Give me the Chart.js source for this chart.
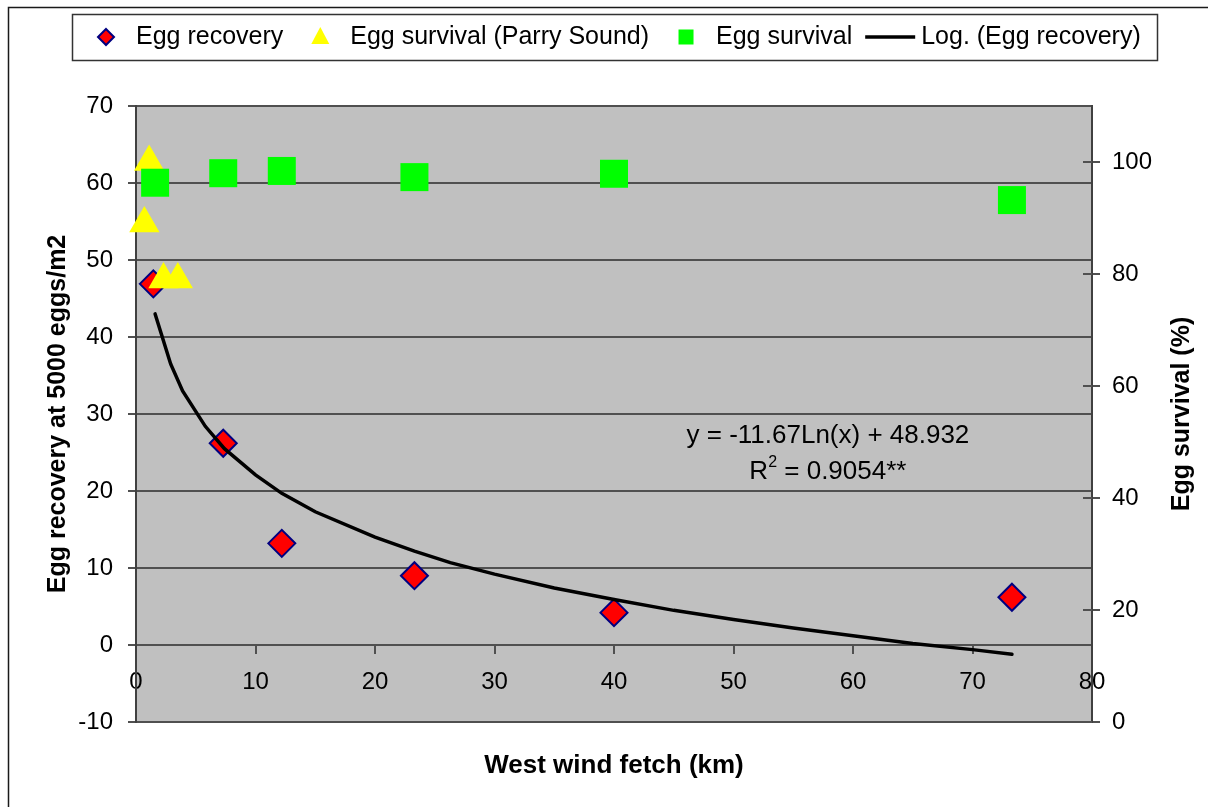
<!DOCTYPE html>
<html>
<head>
<meta charset="utf-8">
<title>Egg recovery and survival vs west wind fetch</title>
<script src="https://cdn.jsdelivr.net/npm/chart.js@4/dist/chart.umd.min.js"></script>
<style>
  html, body { margin: 0; padding: 0; background: #fff; }
  canvas { display: block; }
</style>
</head>
<body>
<canvas id="fetch-chart" width="1208" height="807"></canvas>
<script>
// Egg recovery at 5000 eggs/m2 by west wind fetch (km)
const recoveryFetch = [1.45, 7.3, 12.2, 23.3, 40, 73.3];
const eggRecovery = [46.9, 26.2, 13.2, 9.0, 4.2, 6.2];

// Egg survival (%) at the Parry Sound sites
const parryFetch = [0.7, 1.1, 2.3, 3.5];
const parrySurvival = [89, 100, 79, 79];

// Egg survival (%) at the other sites
const survivalFetch = [1.6, 7.3, 12.2, 23.3, 40, 73.3];
const eggSurvival = [96.3, 98.0, 98.4, 97.3, 97.9, 93.2];

// Logarithmic trend of egg recovery
const trendFetch = [1.6, 2.9, 3.9, 5.8, 7.4, 10, 12.2, 15, 20, 23.3, 26.3, 30, 35, 40, 45, 50, 55, 60, 65, 70, 73.3];
const trendRecovery = [43.0, 36.5, 33.0, 28.4, 25.5, 22.1, 19.7, 17.3, 14.0, 12.2, 10.7, 9.2, 7.4, 5.9, 4.5, 3.3, 2.2, 1.2, 0.2, -0.6, -1.2];

// Axis ticks
const fetchTicks = [0, 10, 20, 30, 40, 50, 60, 70, 80];
const recoveryTicks = [-10, 0, 10, 20, 30, 40, 50, 60, 70];
const survivalTicks = [0, 20, 40, 60, 80, 100];

const equationText = 'y = -11.67Ln(x) + 48.932';
const rSquaredText = ' = 0.9054**';

const FONT = '"Liberation Sans", Arial, Helvetica, sans-serif';
const AXIS_COLOR = '#505050';

Chart.defaults.font.family = FONT;
Chart.defaults.color = '#000';

const toPoints = (xs, ys) => xs.map((x, i) => ({ x: x, y: ys[i] }));
const useTicks = list => scale => { scale.ticks = list.map(v => ({ value: v })); };

// Grey plot area and the outer frame
const plotBackground = {
    id: 'plotBackground',
    beforeDraw(chart) {
        const { ctx, chartArea: a } = chart;
        ctx.save();
        ctx.fillStyle = '#fff';
        ctx.fillRect(0, 0, chart.width, chart.height);
        ctx.fillStyle = '#c0c0c0';
        ctx.fillRect(a.left, a.top, a.right - a.left, a.bottom - a.top);
        ctx.strokeStyle = '#1a1a1a';
        ctx.lineWidth = 1.5;
        ctx.beginPath();
        ctx.moveTo(8.5, chart.height);
        ctx.lineTo(8.5, 7.5);
        ctx.lineTo(chart.width, 7.5);
        ctx.stroke();
        ctx.restore();
    }
};

// Inner half of the right axis tick marks, axis titles, trend equation
const annotations = {
    id: 'annotations',
    afterDraw(chart) {
        const { ctx, chartArea: a, scales } = chart;
        ctx.save();
        ctx.strokeStyle = AXIS_COLOR;
        ctx.lineWidth = 2;
        scales.y1.ticks.forEach(t => {
            const py = Math.round(scales.y1.getPixelForValue(t.value));
            ctx.beginPath();
            ctx.moveTo(a.right - 9, py);
            ctx.lineTo(a.right, py);
            ctx.stroke();
        });

        ctx.fillStyle = '#000';
        ctx.textAlign = 'center';
        ctx.textBaseline = 'middle';
        ctx.font = 'bold 26px ' + FONT;
        ctx.fillText('West wind fetch (km)', (a.left + a.right) / 2, 766);
        ctx.font = 'bold 25px ' + FONT;
        ctx.translate(1182, (a.top + a.bottom) / 2);
        ctx.rotate(-Math.PI / 2);
        ctx.fillText('Egg survival (%)', 0, 0);
        ctx.restore();

        ctx.save();
        const cx = scales.x.getPixelForValue(57.9);
        const ey = scales.y.getPixelForValue(27.2);
        ctx.fillStyle = '#000';
        ctx.font = '26px ' + FONT;
        ctx.textBaseline = 'middle';
        ctx.textAlign = 'center';
        ctx.fillText(equationText, cx, ey);

        // R² line, superscript drawn smaller and raised
        const ry = ey + 36;
        const wR = ctx.measureText('R').width;
        const wRest = ctx.measureText(rSquaredText).width;
        ctx.font = '16px ' + FONT;
        const wSup = ctx.measureText('2').width;
        let sx = cx - (wR + wSup + wRest) / 2;
        ctx.textAlign = 'left';
        ctx.font = '26px ' + FONT;
        ctx.fillText('R', sx, ry);
        sx += wR;
        ctx.font = '16px ' + FONT;
        ctx.fillText('2', sx, ry - 9);
        sx += wSup;
        ctx.font = '26px ' + FONT;
        ctx.fillText(rSquaredText, sx, ry);
        ctx.restore();
    }
};

// Boxed legend across the top
const legendItems = [
    { text: 'Egg recovery', marker: 'diamond', fill: '#ff0000', stroke: '#000080' },
    { text: 'Egg survival (Parry Sound)', marker: 'triangle', fill: '#ffff00' },
    { text: 'Egg survival', marker: 'square', fill: '#00ff00' },
    { text: 'Log. (Egg recovery)', marker: 'line', stroke: '#000' }
];

const legendBox = {
    id: 'legendBox',
    afterDraw(chart) {
        const { ctx } = chart;
        const box = { left: 72, top: 14, right: 1157, bottom: 60 };
        const cy = (box.top + box.bottom) / 2;
        ctx.save();
        ctx.fillStyle = '#fff';
        ctx.fillRect(box.left, box.top, box.right - box.left, box.bottom - box.top);
        ctx.strokeStyle = '#333';
        ctx.lineWidth = 1.5;
        ctx.strokeRect(box.left + 0.5, box.top + 0.5, box.right - box.left, box.bottom - box.top);

        ctx.font = '25px ' + FONT;
        ctx.textBaseline = 'middle';
        ctx.textAlign = 'left';
        let x = box.left + 19;
        legendItems.forEach((item, i) => {
            let textX;
            ctx.beginPath();
            if (item.marker === 'line') {
                ctx.strokeStyle = item.stroke;
                ctx.lineWidth = 3.5;
                ctx.moveTo(x, cy);
                ctx.lineTo(x + 50, cy);
                ctx.stroke();
                textX = x + 56;
            } else {
                const mx = x + 15;
                if (item.marker === 'diamond') {
                    ctx.moveTo(mx, cy - 8);
                    ctx.lineTo(mx + 8, cy);
                    ctx.lineTo(mx, cy + 8);
                    ctx.lineTo(mx - 8, cy);
                    ctx.closePath();
                    ctx.fillStyle = item.fill;
                    ctx.fill();
                    ctx.strokeStyle = item.stroke;
                    ctx.lineWidth = 2;
                    ctx.stroke();
                } else if (item.marker === 'triangle') {
                    ctx.moveTo(mx, cy - 10);
                    ctx.lineTo(mx + 9, cy + 7);
                    ctx.lineTo(mx - 9, cy + 7);
                    ctx.closePath();
                    ctx.fillStyle = item.fill;
                    ctx.fill();
                } else {
                    ctx.fillStyle = item.fill;
                    ctx.fillRect(mx - 7.5, cy - 7.5, 15, 15);
                }
                textX = mx + 30;
            }
            ctx.fillStyle = '#000';
            ctx.fillText(item.text, textX, cy);
            const end = textX + ctx.measureText(item.text).width;
            // the line sample sits closer to the text before it
            x = end + (i === 2 ? 13 : 22);
        });
        ctx.restore();
    }
};

new Chart(document.getElementById('fetch-chart'), {
    type: 'scatter',
    data: {
        datasets: [
            {
                label: 'Log. (Egg recovery)',
                data: toPoints(trendFetch, trendRecovery),
                showLine: true,
                borderColor: '#000',
                borderWidth: 3.5,
                borderCapStyle: 'round',
                tension: 0,
                pointRadius: 0,
                yAxisID: 'y',
                order: 0
            },
            {
                label: 'Egg survival',
                data: toPoints(survivalFetch, eggSurvival),
                pointStyle: 'rect',
                pointRadius: 19.8,
                backgroundColor: '#00ff00',
                borderWidth: 0,
                yAxisID: 'y1',
                clip: false,
                order: 1
            },
            {
                label: 'Egg survival (Parry Sound)',
                data: toPoints(parryFetch, parrySurvival),
                pointStyle: 'triangle',
                pointRadius: 17.5,
                backgroundColor: '#ffff00',
                borderWidth: 0,
                yAxisID: 'y1',
                clip: false,
                order: 2
            },
            {
                label: 'Egg recovery',
                data: toPoints(recoveryFetch, eggRecovery),
                pointStyle: 'rectRot',
                pointRadius: 13.5,
                backgroundColor: '#ff0000',
                borderColor: '#000080',
                borderWidth: 2,
                yAxisID: 'y',
                clip: false,
                order: 3
            }
        ]
    },
    options: {
        responsive: false,
        animation: false,
        events: [],
        layout: { padding: { top: 106, left: 0, right: 0, bottom: 85 } },
        plugins: {
            legend: { display: false },
            tooltip: { enabled: false }
        },
        scales: {
            x: {
                type: 'linear',
                position: { y: 0 },
                min: 0,
                max: 80,
                afterBuildTicks: useTicks(fetchTicks),
                afterFit: s => { s.height = 0; },
                grid: { drawOnChartArea: false, drawTicks: true, tickLength: 8, color: AXIS_COLOR, lineWidth: 2 },
                border: { display: true, color: AXIS_COLOR, width: 2 },
                ticks: { font: { size: 24 }, padding: 15, maxRotation: 0 },
                title: { display: false }
            },
            y: {
                type: 'linear',
                position: 'left',
                min: -10,
                max: 70,
                afterBuildTicks: useTicks(recoveryTicks),
                afterFit: s => { s.width = 136; },
                grid: { color: AXIS_COLOR, lineWidth: 2, tickLength: 8 },
                border: { display: true, color: '#404040', width: 2 },
                ticks: { font: { size: 24 }, padding: 15 },
                title: {
                    display: true,
                    text: 'Egg recovery at 5000 eggs/m2',
                    font: { size: 25, weight: 'bold' },
                    padding: { top: 43, bottom: 0 }
                }
            },
            y1: {
                type: 'linear',
                position: 'right',
                min: 0,
                max: 110,
                afterBuildTicks: useTicks(survivalTicks),
                afterFit: s => { s.width = 116; },
                grid: { drawOnChartArea: false, color: AXIS_COLOR, lineWidth: 2, tickLength: 8 },
                border: { display: true, color: '#404040', width: 2 },
                ticks: { font: { size: 24 }, padding: 12 },
                title: { display: false }
            }
        }
    },
    plugins: [plotBackground, annotations, legendBox]
});
</script>
</body>
</html>
